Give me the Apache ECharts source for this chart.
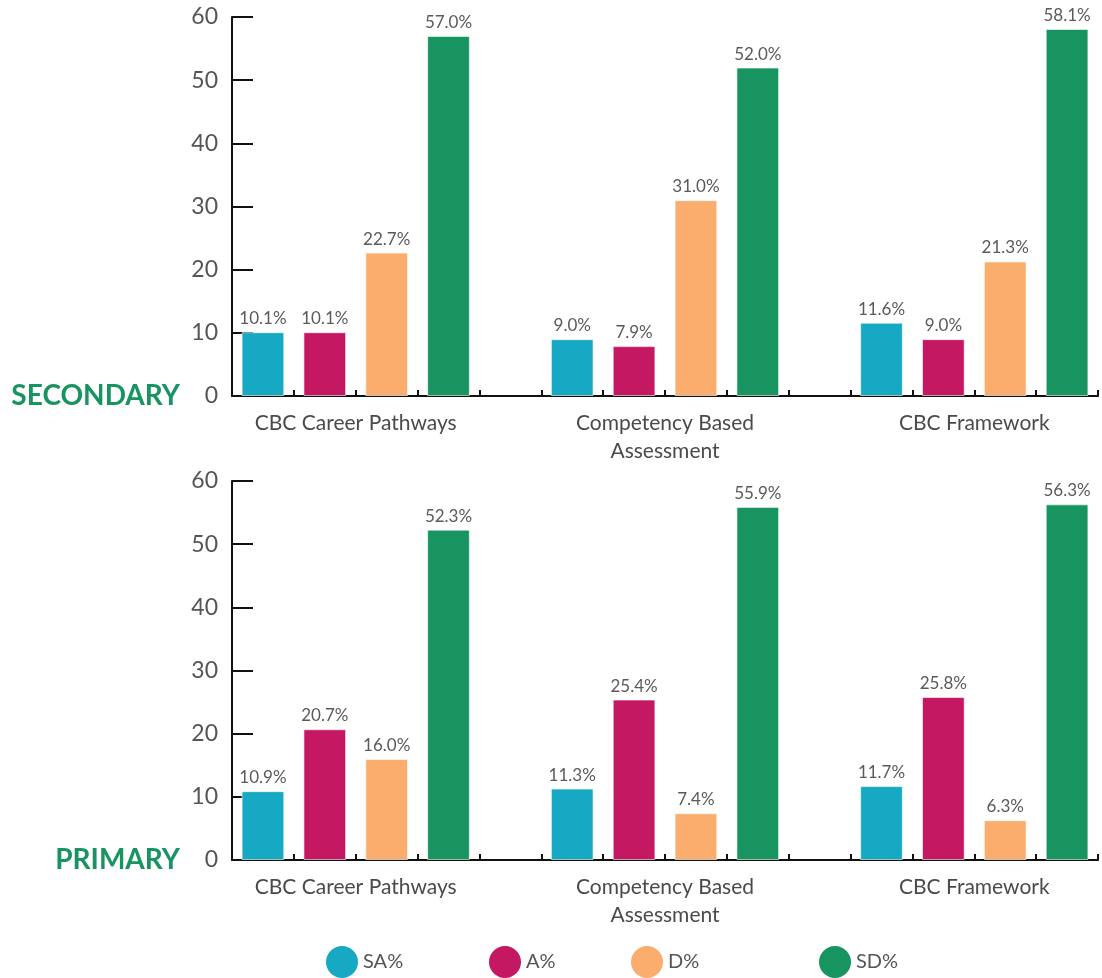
<!DOCTYPE html>
<html>
<head>
<meta charset="utf-8">
<script src="https://cdn.jsdelivr.net/npm/echarts@6/dist/echarts.min.js"></script>
<style>html,body{margin:0;padding:0;background:#fff;}#c{width:1102px;height:978px;}</style>
</head>
<body>
<div id="c"></div>
<script>
const categories = ["CBC Career Pathways", "Competency Based\nAssessment", "CBC Framework"];
const seriesNames = ["SA%", "A%", "D%", "SD%"];
const colors = ["#17A9C3", "#C41862", "#FAAD6C", "#189461"];
const secondary = {
  "SA%": [10.1, 9.0, 11.6],
  "A%":  [10.1, 7.9, 9.0],
  "D%":  [22.7, 31.0, 21.3],
  "SD%": [57.0, 52.0, 58.1]
};
const primary = {
  "SA%": [10.9, 11.3, 11.7],
  "A%":  [20.7, 25.4, 25.8],
  "D%":  [16.0, 7.4, 6.3],
  "SD%": [52.3, 55.9, 56.3]
};
const yTicks = [0, 10, 20, 30, 40, 50, 60];
const panelLabels = ["SECONDARY", "PRIMARY"];

// slot layout: 4 bars per group then one empty slot between groups
const perGroup = seriesNames.length + 1;
const nSlots = categories.length * perGroup - 1;
const slotNames = Array.from({length: nSlots}, (_, i) => 's' + i);
const tickNames = Array.from({length: nSlots + 1}, (_, i) => {
  const g = categories.findIndex((c, gi) => gi * perGroup + seriesNames.length / 2 === i);
  return g >= 0 ? categories[g] : '';
});

function slotData(vals, si) {
  const arr = new Array(nSlots).fill('-');
  vals.forEach((v, g) => { arr[g * perGroup + si] = v; });
  return arr;
}

const grids = [
  {left: 232, top: 17, width: 866, height: 379},
  {left: 232, top: 481, width: 866, height: 379}
];
const xAxes = [], yAxes = [], series = [];
[secondary, primary].forEach((ds, gi) => {
  xAxes.push({
    gridIndex: gi, type: 'category', data: slotNames, boundaryGap: true,
    axisLine: {show: true, lineStyle: {color: '#111', width: 2}},
    axisTick: {show: true, inside: true, length: 6, lineStyle: {color: '#111', width: 2}},
    axisLabel: {show: false}
  });
  xAxes.push({
    gridIndex: gi, type: 'category', data: tickNames, boundaryGap: false, position: 'bottom',
    axisLine: {show: false}, axisTick: {show: false},
    axisLabel: {show: true, interval: 0, margin: 13, color: '#4a4a4a', fontSize: 21, lineHeight: 28, fontFamily: 'Lato'}
  });
  yAxes.push({
    gridIndex: gi, type: 'value', min: 0, max: 60, interval: 10,
    splitLine: {show: false},
    axisLine: {show: true, lineStyle: {color: '#111', width: 2}},
    axisTick: {show: true, inside: true, length: 21, lineStyle: {color: '#111', width: 2}},
    axisLabel: {color: '#555', fontSize: 23, margin: 14, fontFamily: 'Lato',
      formatter: v => yTicks.includes(v) ? String(v) : ''}
  });
  seriesNames.forEach((name, si) => {
    series.push({
      name, type: 'bar', xAxisIndex: gi * 2, yAxisIndex: gi, stack: 'g' + gi,
      data: slotData(ds[name], si), barWidth: '69%',
      itemStyle: {color: colors[si], borderColor: 'rgba(255,255,255,0.6)', borderWidth: 1},
      label: {show: true, position: 'top', distance: 5, color: '#5a5a5a', fontSize: 17, fontFamily: 'Lato',
        formatter: p => Number(p.value).toFixed(1) + '%'},
      z: 3
    });
  });
});

const legendLefts = [326, 489, 631, 819];
const legends = seriesNames.map((n, i) => ({
  data: [n], left: legendLefts[i], top: 946, padding: 0, icon: 'circle', itemWidth: 32, itemHeight: 32, itemGap: 0,
  itemStyle: {borderWidth: 0},
  textStyle: {color: '#555', fontSize: 20, fontFamily: 'Lato'}
}));

const chart = echarts.init(document.getElementById('c'));
chart.setOption({
  animation: false,
  backgroundColor: '#fff',
  color: colors,
  grid: grids,
  xAxis: xAxes,
  yAxis: yAxes,
  legend: legends,
  series,
  graphic: panelLabels.map((t, i) => ({
    type: 'text', x: 180, y: i === 0 ? 396 : 860,
    style: {text: t, fill: '#189461', font: 'bold 28px Lato', textAlign: 'right', textVerticalAlign: 'middle'}
  }))
});
</script>
</body>
</html>
